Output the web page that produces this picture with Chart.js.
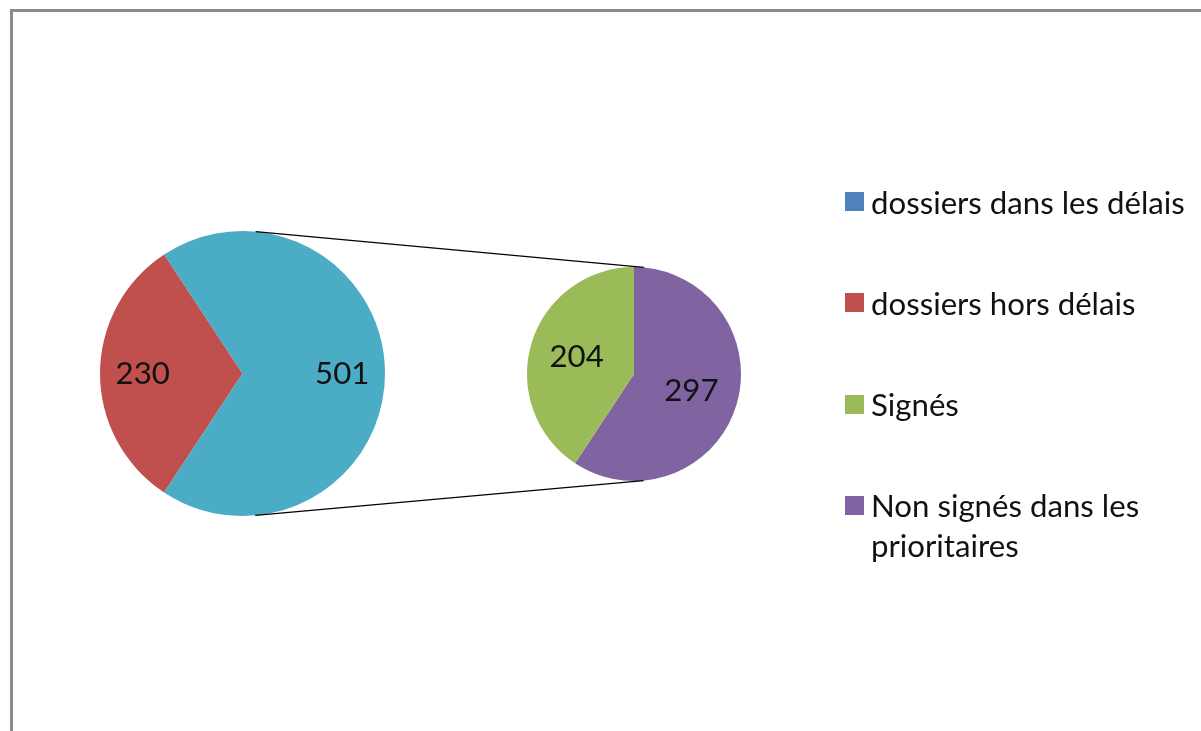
<!DOCTYPE html>
<html>
<head>
<meta charset="utf-8">
<script src="https://cdn.jsdelivr.net/npm/chart.js@4/dist/chart.umd.min.js"></script>
<style>
  body { margin: 0; background: #fff; }
  #wrap { position: relative; width: 1201px; height: 731px; overflow: hidden; }
  #frame { position: absolute; left: 10px; top: 9px; width: 1201px; height: 731px;
           border-top: 3px solid #8c8c8c; border-left: 3px solid #8c8c8c; }
  canvas { position: absolute; left: 0; top: 0; }
  #legend { position: absolute; left: 845px; top: 0; font-family: Lato, sans-serif; color: #111; }
  .item { position: absolute; left: 0; width: 350px; }
  .box { position: absolute; left: 0; width: 19px; height: 19px; }
  .txt { position: absolute; left: 26px; width: 325px; line-height: 40px; }
</style>
</head>
<body>
<div id="wrap">
  <div id="frame"></div>
  <canvas id="mainPie" width="1201" height="731"></canvas>
  <canvas id="subPie" width="1201" height="731"></canvas>
  <div id="legend"></div>
</div>
<script>
// legend categories (first one has no value in the source sheet)
const categories = ['dossiers dans les délais', 'dossiers hors délais', 'Signés', 'Non signés dans les prioritaires'];
const legendColors = ['#4f81bd', '#c0504d', '#9bbb59', '#8064a2'];

// main pie: "hors délais" + the aggregated slice that is split in the second pie
const mainLabels = ['dossiers hors délais', 'Autre'];
const mainValues = [230, 501];
const mainColors = ['#c0504d', '#4bacc6'];

// second pie
const subLabels = ['Non signés dans les prioritaires', 'Signés'];
const subValues = [297, 204];
const subColors = ['#8064a2', '#9bbb59'];

// pick a font size so the legend text is about as wide as in the picture
const probe = document.createElement('canvas').getContext('2d');
probe.font = '100px Lato';
const fontSize = Math.round(100 * 314 / probe.measureText(categories[0]).width * 10) / 10;

const valueLabels = {
  id: 'valueLabels',
  afterDatasetsDraw(chart, args, opts) {
    const ctx = chart.ctx;
    const meta = chart.getDatasetMeta(0);
    const values = chart.data.datasets[0].data;
    ctx.save();
    ctx.font = fontSize + 'px Lato';
    ctx.fillStyle = '#111';
    ctx.textAlign = 'center';
    ctx.textBaseline = 'middle';
    meta.data.forEach((arc, i) => {
      const p = arc.getProps(['x', 'y', 'startAngle', 'endAngle', 'outerRadius'], true);
      const mid = (p.startAngle + p.endAngle) / 2;
      const r = p.outerRadius * opts.factor;
      ctx.fillText(values[i], p.x + Math.cos(mid) * r, p.y + Math.sin(mid) * r);
    });
    ctx.restore();
  }
};

// rotate so the red slice is centred on the left side
const mainTotal = mainValues.reduce((a, b) => a + b, 0);
const mainRotation = 270 - (mainValues[0] / mainTotal) * 360 / 2;

const mainChart = new Chart(document.getElementById('mainPie'), {
  type: 'pie',
  data: {
    labels: mainLabels,
    datasets: [{ data: mainValues, backgroundColor: mainColors, borderWidth: 0 }]
  },
  options: {
    responsive: false,
    animation: false,
    rotation: mainRotation,
    layout: { padding: { left: 100, top: 231, right: 816, bottom: 215 } },
    plugins: { legend: { display: false }, tooltip: { enabled: false }, valueLabels: { factor: 0.7 } }
  },
  plugins: [valueLabels]
});

// the two lines joining the pies (outer tangents of both circles)
const connectors = {
  id: 'connectors',
  afterDraw(chart) {
    const a = mainChart.getDatasetMeta(0).data[0];
    const b = chart.getDatasetMeta(0).data[0];
    const dx = b.x - a.x, dy = b.y - a.y;
    const d = Math.hypot(dx, dy);
    const phi = Math.atan2(dy, dx);
    const alpha = Math.acos((a.outerRadius - b.outerRadius) / d);
    const ctx = chart.ctx;
    ctx.save();
    ctx.strokeStyle = '#000';
    ctx.lineWidth = 1.2;
    [1, -1].forEach(s => {
      const t = phi + s * alpha;
      ctx.beginPath();
      ctx.moveTo(a.x + a.outerRadius * Math.cos(t), a.y + a.outerRadius * Math.sin(t));
      ctx.lineTo(b.x + b.outerRadius * Math.cos(t), b.y + b.outerRadius * Math.sin(t));
      ctx.stroke();
    });
    ctx.restore();
  }
};

new Chart(document.getElementById('subPie'), {
  type: 'pie',
  data: {
    labels: subLabels,
    datasets: [{ data: subValues, backgroundColor: subColors, borderWidth: 0 }]
  },
  options: {
    responsive: false,
    animation: false,
    layout: { padding: { left: 527, top: 267, right: 460, bottom: 250 } },
    plugins: { legend: { display: false }, tooltip: { enabled: false }, valueLabels: { factor: 0.56 } }
  },
  plugins: [valueLabels, connectors]
});

// legend on the right
const legend = document.getElementById('legend');
categories.forEach((name, i) => {
  const item = document.createElement('div');
  item.className = 'item';
  item.style.top = (201.5 + i * 101.3 - 20) + 'px';
  item.style.fontSize = fontSize + 'px';
  const box = document.createElement('div');
  box.className = 'box';
  box.style.background = legendColors[i];
  box.style.top = '10.5px';
  const txt = document.createElement('div');
  txt.className = 'txt';
  txt.textContent = name;
  item.appendChild(box);
  item.appendChild(txt);
  legend.appendChild(item);
});
</script>
</body>
</html>
